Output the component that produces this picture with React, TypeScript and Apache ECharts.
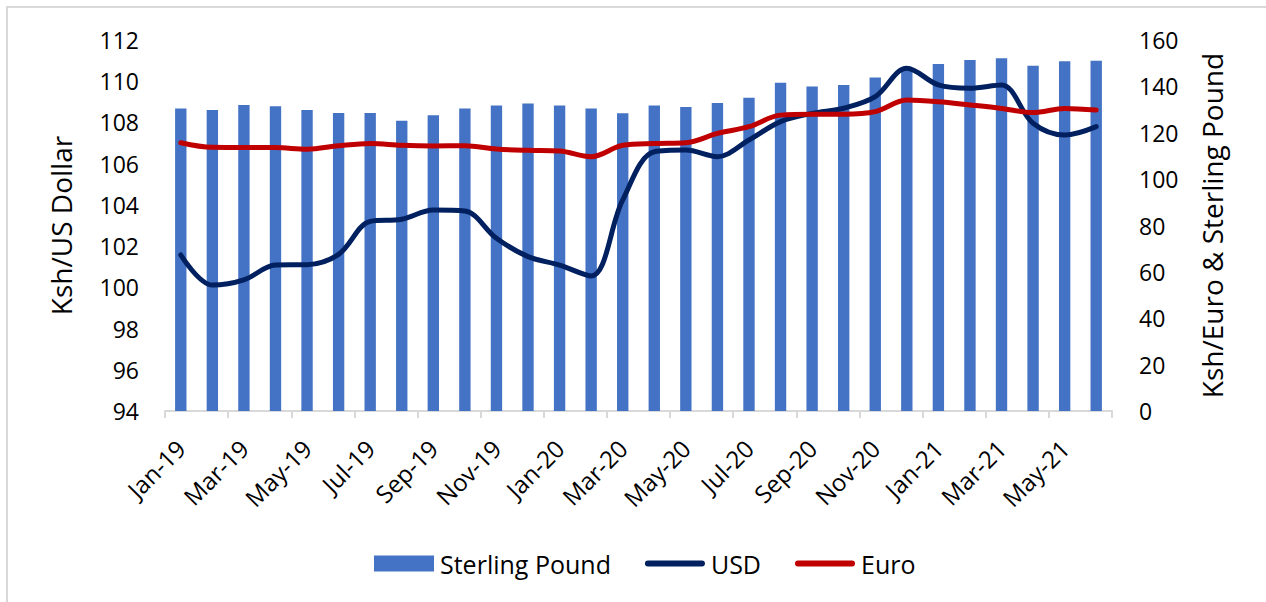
import React, { useEffect, useRef } from "react";
import * as echarts from "echarts";

const months = [
  "Jan-19", "Feb-19", "Mar-19", "Apr-19", "May-19", "Jun-19", "Jul-19", "Aug-19", "Sep-19", "Oct-19",
  "Nov-19", "Dec-19", "Jan-20", "Feb-20", "Mar-20", "Apr-20", "May-20", "Jun-20", "Jul-20", "Aug-20",
  "Sep-20", "Oct-20", "Nov-20", "Dec-20", "Jan-21", "Feb-21", "Mar-21", "Apr-21", "May-21", "Jun-21",
];

const sterling = [
  130.5, 129.8, 132.0, 131.4, 129.8, 128.5, 128.5, 125.2, 127.6, 130.5,
  131.7, 132.6, 131.7, 130.5, 128.4, 131.7, 131.1, 132.8, 135.1, 141.6,
  140.0, 140.6, 143.8, 147.8, 149.6, 151.4, 152.1, 148.9, 150.8, 151.1,
];

const usd = [
  101.57, 100.11, 100.36, 101.08, 101.1, 101.6, 103.2, 103.3, 103.75, 103.7,
  102.38, 101.49, 101.08, 100.55, 104.24, 106.58, 106.66, 106.34, 107.15, 108.04,
  108.44, 108.69, 109.25, 110.63, 109.82, 109.66, 109.82, 107.96, 107.39, 107.8,
];

const euro = [
  115.7, 113.7, 113.6, 113.6, 112.9, 114.4, 115.4, 114.6, 114.3, 114.4,
  113.0, 112.4, 112.1, 109.7, 114.6, 115.4, 115.7, 119.7, 122.6, 127.6,
  128.0, 128.0, 129.1, 134.1, 133.4, 132.0, 130.5, 128.7, 130.5, 129.8,
];

const FONT = "Open Sans";
const LINE_ICON = "path://M3,0 H57 A3,3 0 0 1 57,6 H3 A3,3 0 0 1 3,0 Z";

export default function App() {
  const ref = useRef<HTMLDivElement>(null);
  useEffect(() => {
    if (!ref.current) return;
    const chart = echarts.init(ref.current, undefined, { renderer: "svg" });
    chart.setOption({
      animation: false,
      backgroundColor: "#ffffff",
      textStyle: { fontFamily: FONT },
      graphic: [
        {
          type: "rect",
          shape: { x: 7, y: 7, width: 1290, height: 640 },
          style: { fill: "none", stroke: "#d9d9d9", lineWidth: 2 },
          silent: true,
        },
      ],
      grid: { left: 165, right: 154, top: 40, bottom: 191, containLabel: false },
      legend: {
        data: [
          { name: "Sterling Pound", icon: "rect" },
          { name: "USD", icon: LINE_ICON },
          { name: "Euro", icon: LINE_ICON },
        ],
        left: 374,
        top: 551,
        padding: 0,
        itemWidth: 60,
        itemHeight: 16,
        itemGap: 34,
        symbolKeepAspect: true,
        textStyle: { fontFamily: FONT, fontSize: 25, color: "#000", padding: [0, 0, 0, 1] },
      },
      xAxis: {
        type: "category",
        data: months,
        boundaryGap: true,
        axisLine: { show: true, lineStyle: { color: "#d9d9d9", width: 2 } },
        axisTick: { show: true, interval: 1, length: 7, lineStyle: { color: "#d9d9d9", width: 2 } },
        axisLabel: {
          interval: 1,
          rotate: 45,
          margin: 33,
          fontFamily: FONT,
          fontSize: 24,
          color: "#000",
        },
        splitLine: { show: false },
      },
      yAxis: [
        {
          type: "value",
          min: 94,
          max: 112,
          interval: 2,
          name: "Ksh/US Dollar",
          nameLocation: "middle",
          nameGap: 90,
          nameRotate: 90,
          nameTextStyle: { fontFamily: FONT, fontSize: 28, color: "#000" },
          axisLine: { show: false },
          axisTick: { show: false },
          splitLine: { show: false },
          axisLabel: { margin: 26, fontFamily: FONT, fontSize: 23, color: "#000" },
        },
        {
          type: "value",
          min: 0,
          max: 160,
          interval: 20,
          position: "right",
          name: "Ksh/Euro & Sterling Pound",
          nameLocation: "middle",
          nameGap: 86,
          nameRotate: 90,
          nameTextStyle: { fontFamily: FONT, fontSize: 28, color: "#000" },
          axisLine: { show: false },
          axisTick: { show: false },
          splitLine: { show: false },
          axisLabel: { margin: 27, fontFamily: FONT, fontSize: 23, color: "#000" },
        },
      ],
      series: [
        {
          name: "Sterling Pound",
          type: "bar",
          yAxisIndex: 1,
          data: sterling,
          barWidth: "36%",
          itemStyle: { color: "#4472C4" },
        },
        {
          name: "USD",
          type: "line",
          yAxisIndex: 0,
          data: usd,
          smooth: 0.35,
          symbol: "none",
          lineStyle: { color: "#002060", width: 5, cap: "round", join: "round" },
          itemStyle: { color: "#002060" },
        },
        {
          name: "Euro",
          type: "line",
          yAxisIndex: 1,
          data: euro,
          smooth: 0.35,
          symbol: "none",
          lineStyle: { color: "#C00000", width: 5, cap: "round", join: "round" },
          itemStyle: { color: "#C00000" },
        },
      ],
    });
    return () => chart.dispose();
  }, []);
  return (
    <div
      ref={ref}
      style={{ position: "absolute", left: 0, top: 0, width: 1266, height: 602 }}
    />
  );
}
